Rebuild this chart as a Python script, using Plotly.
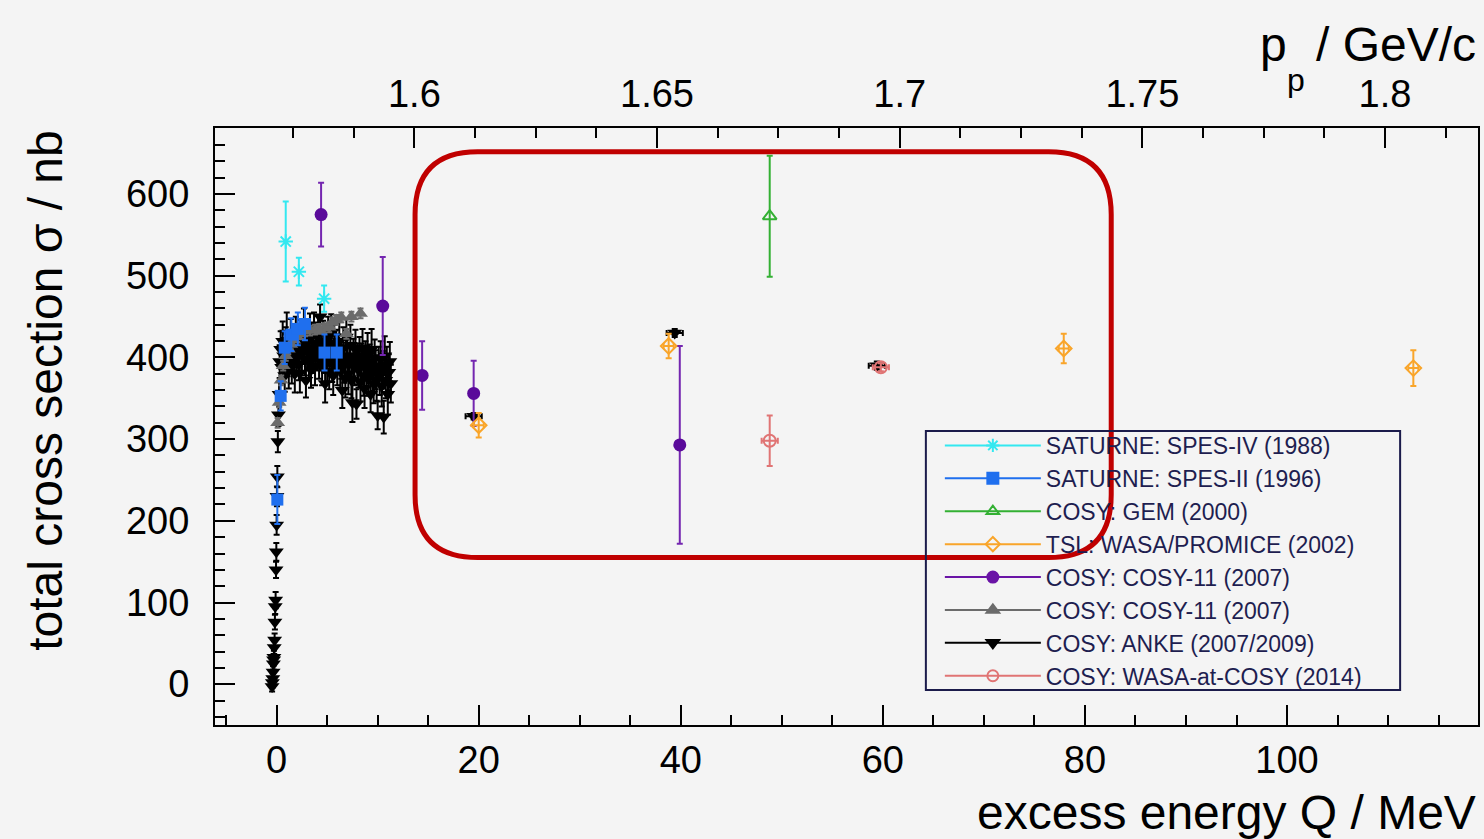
import math
import plotly.graph_objects as go

# ---------------- data ----------------
spes4_q = [0.9, 2.2, 4.7]
spes4_s = [542, 505, 472]
spes4_e = [49, 17, 16]

spes2_q = [0.07, 0.4, 0.8, 1.45, 2.1, 2.8, 4.74, 5.95]
spes2_s = [226, 353, 412, 428, 435, 441, 406, 406]
spes2_e = [30, 18, 20, 20, 20, 20, 22, 22]

gem_q = [48.8]
gem_s = [573]
gem_e = [74]

tsl_q = [20.0, 38.8, 77.9, 112.5]
tsl_s = [317, 414, 411, 387]
tsl_e = [15, 15, 18, 22]
tsl_ex = [0.5, 0.5, 0.5, 0.5]

c11_q = [4.4, 10.5, 14.4, 19.5, 39.9]
c11_s = [575, 463, 378, 356, 293]
c11_e = [39, 60, 42, 40, 121]

c11b_q = [0.1, 0.25, 0.45, 0.65, 0.9, 1.15, 1.4, 1.7, 2.0, 2.4, 2.8, 3.3, 3.8, 4.2, 4.7, 5.2, 5.5, 5.9, 6.4, 6.9, 7.4, 8.3]
c11b_s = [320, 345, 372, 390, 402, 410, 416, 421, 425, 429, 432, 433, 434, 435, 436, 437, 443, 446, 449, 429, 450, 454]
c11b_e = [6, 6, 6, 6, 6, 6, 6, 6, 6, 6, 6, 6, 6, 6, 6, 6, 6, 6, 6, 6, 6, 6]

anke_q = [-0.45, -0.42, -0.38, -0.35, -0.32, -0.3, -0.27, -0.24, -0.2, -0.17, -0.14, -0.1, -0.06, -0.03, 0.0,
          0.03, 0.07, 0.12, 0.18, 0.24,
          0.3, 0.4, 0.5, 0.6, 0.7, 0.8, 0.9, 1.0, 1.1, 1.2, 1.3, 1.4, 1.5, 1.6, 1.7, 1.8, 1.9, 2.0,
          2.1, 2.2, 2.3, 2.4, 2.5, 2.6, 2.7, 2.8, 2.9, 3.0, 3.1, 3.2, 3.3, 3.4, 3.5, 3.6, 3.7, 3.8, 3.9, 4.0,
          4.1, 4.2, 4.3, 4.4, 4.5, 4.6, 4.7, 4.8, 4.9, 5.0, 5.1, 5.2, 5.3, 5.4, 5.5, 5.6, 5.7, 5.8, 5.9, 6.0,
          6.1, 6.2, 6.3, 6.4, 6.5, 6.6, 6.7, 6.8, 6.9, 7.0, 7.1, 7.2, 7.3, 7.4, 7.5, 7.6, 7.7, 7.8, 7.9, 8.0,
          8.1, 8.2, 8.3, 8.4, 8.5, 8.6, 8.7, 8.8, 8.9, 9.0, 9.1, 9.2, 9.3, 9.4, 9.5, 9.6, 9.7, 9.8, 9.9, 10.0,
          10.1, 10.2, 10.3, 10.4, 10.5, 10.6, 10.7, 10.8, 10.9, 11.0, 11.1, 11.2, 11.3]
anke_s = [-3, 2, 7, 15, 25, 30, 33, 45, 54, 76, 95, 103, 140, 162, 195,
          230, 254, 297, 330, 355,
          395, 410, 388, 420, 402, 378, 415, 430, 398, 385, 412, 425, 392, 405, 418, 380, 428, 400,
          410, 392, 381, 425, 405, 415, 438, 398, 372, 420, 408, 395, 430, 385, 412, 402, 440, 390, 418, 405,
          428, 398, 450, 412, 388, 420, 402, 368, 415, 395, 425, 383, 408, 430, 392, 378, 418, 400, 410, 388,
          405, 420, 385, 398, 360, 412, 392, 375, 425, 402, 380, 395, 415, 372, 345, 400, 388, 410, 343, 392,
          385, 402, 370, 395, 412, 378, 362, 398, 388, 405, 375, 392, 355, 410, 382, 368, 400, 385, 372, 329,
          390, 378, 398, 365, 385, 327, 402, 372, 390, 355, 382, 395, 368]
anke_e = [6, 6, 6, 7, 7, 7, 8, 8, 8, 9, 9, 10, 10, 11, 12,
          12, 13, 13, 14, 15,
          20, 22, 20, 24, 22, 20, 22, 25, 21, 23, 20, 22, 24, 21, 22, 23, 22, 20,
          22, 20, 24, 21, 22, 23, 22, 20, 21, 22, 22, 23, 24, 22, 23, 21, 15, 24, 22, 21,
          23, 24, 15, 23, 22, 25, 21, 23, 22, 24, 25, 22, 18, 23, 22, 24, 22, 23, 24, 22,
          23, 25, 22, 24, 22, 25, 23, 24, 22, 24, 25, 20, 25, 22, 24, 23, 22, 24, 18, 25,
          22, 23, 24, 22, 23, 25, 24, 22, 23, 25, 22, 24, 22, 25, 23, 24, 22, 24, 25, 17,
          23, 24, 22, 25, 23, 20, 24, 22, 23, 25, 22, 24, 23]

anke09_q = [19.5, 39.4, 59.4]
anke09_s = [328, 430, 390]
anke09_e = [4, 5, 5]
anke09_ex = [0.8, 0.8, 0.8]

wasa_q = [48.8, 59.8]
wasa_s = [298, 388]
wasa_e = [31, 5]
wasa_ex = [0.8, 0.8]

# top axis: beam momentum p_p / GeV/c  (p d -> 3He eta)
p_major = [1.6, 1.65, 1.7, 1.75, 1.8]
p_major_text = ["1.6", "1.65", "1.7", "1.75", "1.8"]
p_minor = [1.575, 1.5875, 1.6125, 1.625, 1.6375, 1.6625, 1.675, 1.6875, 1.7125, 1.725, 1.7375,
           1.7625, 1.775, 1.7875, 1.8125, 1.825]

M_P, M_D, M_HE3, M_ETA = 0.938272, 1.875613, 2.808391, 0.547862


def q_of_p(p):
    e = math.sqrt(M_P ** 2 + p ** 2)
    s = M_P ** 2 + M_D ** 2 + 2 * M_D * e
    return (math.sqrt(s) - M_HE3 - M_ETA) * 1000.0


X_RANGE = [-6.1, 118.9]
Y_RANGE = [-50, 681]

FONT = "Liberation Sans, Arial, Helvetica, sans-serif"

# plot frame in pixels (for paper-coordinate conversions)
L, R, T, B = 215, 1480, 128, 725
W, H = R - L, B - T


def px(x):
    return (x - L) / W


def py(y):
    return (B - y) / H


fig = go.Figure()


def eb(arr, color, width=3, thick=2):
    return dict(type="data", array=arr, visible=True, color=color, thickness=thick, width=width)


# draw order: black first, then others on top
fig.add_trace(go.Scatter(x=anke_q, y=anke_s, mode="markers", showlegend=False,
                         marker=dict(symbol="triangle-down", size=13, color="black"),
                         error_y=eb(anke_e, "black")))
fig.add_trace(go.Scatter(x=anke09_q, y=anke09_s, mode="markers", showlegend=False,
                         marker=dict(symbol="triangle-down", size=13, color="black"),
                         error_y=eb(anke09_e, "black"), error_x=eb(anke09_ex, "black")))
fig.add_trace(go.Scatter(x=c11b_q, y=c11b_s, mode="markers", showlegend=False,
                         marker=dict(symbol="triangle-up", size=13, color="#6b6b6b"),
                         error_y=eb(c11b_e, "#6b6b6b")))
fig.add_trace(go.Scatter(x=spes2_q, y=spes2_s, mode="markers", showlegend=False,
                         marker=dict(symbol="square", size=12, color="#1f6fee"),
                         error_y=eb(spes2_e, "#1f6fee")))
fig.add_trace(go.Scatter(x=spes4_q, y=spes4_s, mode="markers", showlegend=False,
                         marker=dict(symbol="asterisk-open", size=12, color="#33e8f0",
                                     line=dict(color="#33e8f0", width=2)),
                         error_y=eb(spes4_e, "#33e8f0")))
fig.add_trace(go.Scatter(x=gem_q, y=gem_s, mode="markers", showlegend=False,
                         marker=dict(symbol="triangle-up-open", size=12, color="#33b033",
                                     line=dict(color="#33b033", width=2)),
                         error_y=eb(gem_e, "#33b033")))
fig.add_trace(go.Scatter(x=tsl_q, y=tsl_s, mode="markers", showlegend=False, xaxis="x2",
                         marker=dict(symbol="diamond-open", size=12, color="#f9a52a",
                                     line=dict(color="#f9a52a", width=2)),
                         error_y=eb(tsl_e, "#f9a52a"), error_x=eb(tsl_ex, "#f9a52a")))
fig.add_trace(go.Scatter(x=c11_q, y=c11_s, mode="markers", showlegend=False,
                         marker=dict(symbol="circle", size=13, color="#5a0a9a"),
                         error_y=eb(c11_e, "#7426b0")))
fig.add_trace(go.Scatter(x=wasa_q, y=wasa_s, mode="markers", showlegend=False,
                         marker=dict(symbol="circle-open", size=12, color="#e07474",
                                     line=dict(color="#e07474", width=2)),
                         error_y=eb(wasa_e, "#e07474"), error_x=eb(wasa_ex, "#e07474")))

# legend entries (line + marker as in the original legend)
legend_names = ["SATURNE: SPES-IV (1988)", "SATURNE: SPES-II (1996)", "COSY: GEM (2000)",
                "TSL: WASA/PROMICE (2002)", "COSY: COSY-11 (2007)", "COSY: COSY-11 (2007) ",
                "COSY: ANKE (2007/2009)", "COSY: WASA-at-COSY (2014)"]
legend_colors = ["#33e8f0", "#1f6fee", "#33b033", "#f9a52a", "#6a14a6", "#6b6b6b", "black", "#e07474"]
legend_symbols = ["asterisk-open", "square", "triangle-up-open", "diamond-open", "circle",
                  "triangle-up", "triangle-down", "circle-open"]
for name, col, sym in zip(legend_names, legend_colors, legend_symbols):
    fig.add_trace(go.Scatter(x=[None], y=[None], mode="lines+markers", name=name,
                             line=dict(color=col, width=2),
                             marker=dict(symbol=sym, size=11, color=col, line=dict(color=col, width=2))))

# highlight box
BX0, BX1, BY0, BY1 = 13.7, 82.6, 155, 652
RX, RY = 6.2, 77
path = (f"M {BX0+RX},{BY1} L {BX1-RX},{BY1} Q {BX1},{BY1} {BX1},{BY1-RY} "
        f"L {BX1},{BY0+RY} Q {BX1},{BY0} {BX1-RX},{BY0} L {BX0+RX},{BY0} "
        f"Q {BX0},{BY0} {BX0},{BY0+RY} L {BX0},{BY1-RY} Q {BX0},{BY1} {BX0+RX},{BY1} Z")
fig.add_shape(type="path", path=path, xref="x", yref="y", layer="above",
              line=dict(color="#c00000", width=5))
# legend frame
fig.add_shape(type="rect", xref="paper", yref="paper", x0=px(927), x1=px(1402), y0=py(690), y1=py(431),
              line=dict(color="#1b1b4b", width=2), fillcolor="rgba(0,0,0,0)", layer="above")

tickfont = dict(family=FONT, size=38, color="black")
title_font = dict(family=FONT, size=48, color="black")

fig.update_layout(
    width=1484, height=839,
    margin=dict(l=L, r=1484 - R, t=T, b=839 - B, pad=0),
    paper_bgcolor="#f4f4f4", plot_bgcolor="#f4f4f4",
    font=dict(family=FONT, color="black"),
    showlegend=True,
    legend=dict(x=px(941), y=py(424), xanchor="left", yanchor="top",
                bgcolor="rgba(0,0,0,0)", borderwidth=0,
                font=dict(family=FONT, size=23, color="#1e1e50"),
                itemwidth=96, tracegroupgap=0, traceorder="normal"),
    xaxis=dict(range=X_RANGE, tick0=0, dtick=20, ticks="inside", ticklen=20, tickwidth=2,
               tickcolor="black", showline=True, linecolor="black", linewidth=2, mirror=True,
               showgrid=False, zeroline=False, tickfont=tickfont, ticklabelstandoff=0,
               minor=dict(dtick=5, tick0=0, ticks="inside", ticklen=10, tickwidth=2, tickcolor="black",
                          showgrid=False)),
    xaxis2=dict(range=X_RANGE, overlaying="x", side="top", anchor="y",
                tickmode="array", tickvals=[q_of_p(p) for p in p_major], ticktext=p_major_text,
                ticks="inside", ticklen=20, tickwidth=2, tickcolor="black", showline=False,
                showgrid=False, zeroline=False, tickfont=tickfont, ticklabelstandoff=12,
                minor=dict(tickmode="array",
                           tickvals=[q_of_p(p) for p in p_minor if q_of_p(p) < X_RANGE[1]],
                           ticks="inside", ticklen=10, tickwidth=2, tickcolor="black", showgrid=False)),
    yaxis=dict(range=Y_RANGE, tick0=0, dtick=100, ticks="inside", ticklen=20, tickwidth=2,
               tickcolor="black", showline=True, linecolor="black", linewidth=2, mirror=True,
               showgrid=False, zeroline=False, tickfont=tickfont, ticklabelstandoff=16,
               minor=dict(dtick=20, tick0=0, ticks="inside", ticklen=10, tickwidth=2, tickcolor="black",
                          showgrid=False)),
    annotations=[
        dict(text="excess energy Q / MeV", xref="paper", yref="paper", x=1.0, y=py(813),
             xanchor="right", yanchor="middle", showarrow=False, font=title_font),
        dict(text="total cross section σ / nb", xref="paper", yref="paper", x=px(45), y=1.0,
             xanchor="center", yanchor="top", textangle=-90, showarrow=False, font=title_font),
        dict(text="/ GeV/c", xref="paper", yref="paper", x=1.0, y=py(44),
             xanchor="right", yanchor="middle", showarrow=False, font=title_font),
        dict(text="p", xref="paper", yref="paper", x=px(1291), y=py(44),
             xanchor="right", yanchor="middle", showarrow=False, font=title_font),
        dict(text="p", xref="paper", yref="paper", x=px(1287), y=py(80),
             xanchor="left", yanchor="middle", showarrow=False,
             font=dict(family=FONT, size=32, color="black")),
    ],
)

fig.write_html("out.html")
